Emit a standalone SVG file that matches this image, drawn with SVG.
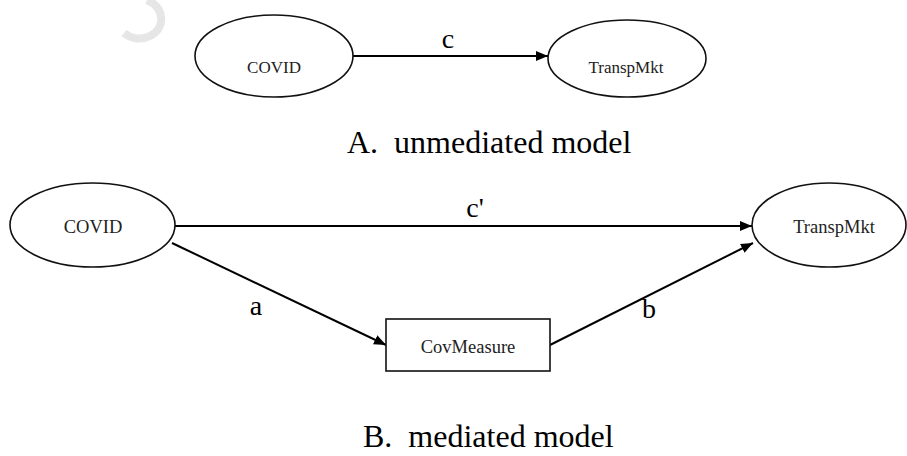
<svg xmlns="http://www.w3.org/2000/svg" width="907" height="456" viewBox="0 0 907 456">
<style>
.node{fill:#fff;stroke:#111;stroke-width:1.6}
.ntxt{font-family:"Liberation Serif","Times New Roman",serif;fill:#222;text-anchor:middle}
.lbl{font-family:"Liberation Serif","Times New Roman",serif;font-size:28px;fill:#000;text-anchor:middle}
.cap{font-family:"Liberation Serif","Times New Roman",serif;font-size:32px;fill:#000;white-space:pre}
.edge{stroke:#000;stroke-width:2;fill:none}
</style>
<defs>
<marker id="arr" viewBox="0 0 12 10" refX="12" refY="5" markerWidth="12" markerHeight="10" markerUnits="userSpaceOnUse" orient="auto">
<path d="M0,0 L12,5 L0,10 Z" fill="#000"/>
</marker>
</defs>
<rect width="907" height="456" fill="#fff"/>
<path d="M147,0 C165,8 166,28 150,36 C140,41 130,38 124,33" fill="none" stroke="#e6e6e6" stroke-width="8"/>
<g id="connectors">
<line class="edge" x1="353" y1="56" x2="548" y2="56" marker-end="url(#arr)"/>
<line class="edge" x1="175" y1="226" x2="752" y2="226" marker-end="url(#arr)"/>
<line class="edge" x1="172" y1="243" x2="386" y2="345" marker-end="url(#arr)"/>
<line class="edge" x1="550" y1="345" x2="753" y2="243" marker-end="url(#arr)"/>
<text class="lbl" x="448" y="48">c</text>
<text class="lbl" x="475" y="217">c'</text>
<text class="lbl" x="256" y="315">a</text>
<text class="lbl" x="649" y="318">b</text>
</g>
<g id="covid-a">
<ellipse class="node" cx="274" cy="56" rx="79" ry="41"/>
<text class="ntxt" x="274" y="73" font-size="17">COVID</text>
</g>
<g id="transpmkt-a">
<ellipse class="node" cx="627" cy="58.5" rx="79" ry="38.5"/>
<text class="ntxt" x="626" y="73" font-size="17">TranspMkt</text>
</g>
<g id="caption-a">
<text class="cap" x="347" y="153">A.  unmediated model</text>
</g>
<g id="covid-b">
<ellipse class="node" cx="92.5" cy="225" rx="82.5" ry="42"/>
<text class="ntxt" x="93" y="233" font-size="18.5">COVID</text>
</g>
<g id="transpmkt-b">
<ellipse class="node" cx="829" cy="225" rx="77" ry="42"/>
<text class="ntxt" x="834" y="233" font-size="18.5">TranspMkt</text>
</g>
<g id="covmeasure">
<rect class="node" x="386" y="319" width="164" height="52"/>
<text class="ntxt" x="468" y="353" font-size="18.5">CovMeasure</text>
</g>
<g id="caption-b">
<text class="cap" x="363" y="447">B.  mediated model</text>
</g>
</svg>
